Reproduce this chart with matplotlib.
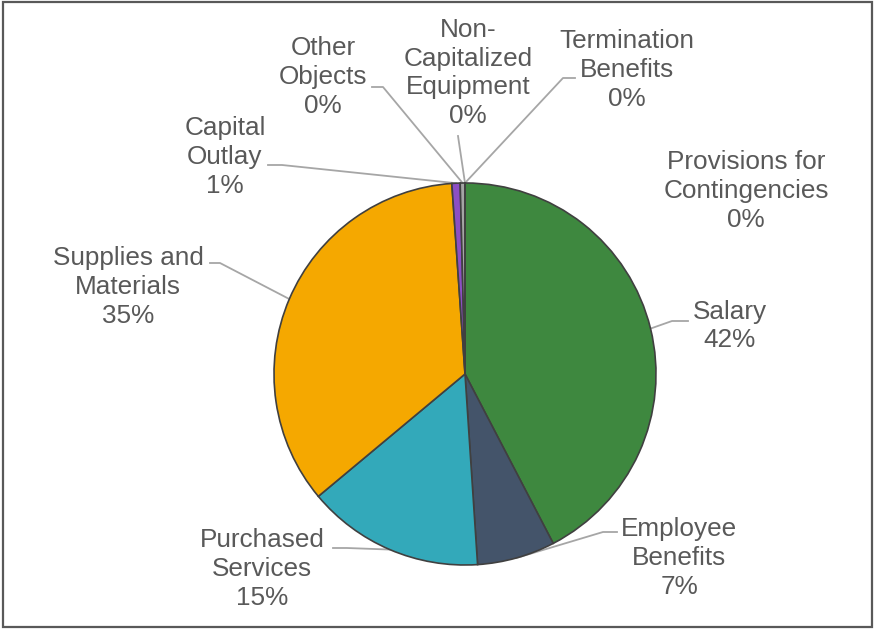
import numpy as np
import matplotlib
matplotlib.use('Agg')
from matplotlib import pyplot as plt
from matplotlib.patches import Rectangle

# budget share by object category (percent of total)
categories = ['Salary', 'Employee\nBenefits', 'Purchased\nServices', 'Supplies and\nMaterials',
              'Capital\nOutlay', 'Other\nObjects', 'Non-\nCapitalized\nEquipment',
              'Termination\nBenefits', 'Provisions for\nContingencies']
shares = [42.4, 6.6, 15.0, 35.0, 0.7, 0.4, 0.0, 0.0, 0.0]
colors = ['#3E883F', '#44546A', '#33A9BA', '#F5A800', '#8C4FC4', '#A5A5A5',
          '#5B9BD5', '#264478', '#9E480E']

W, H = 874, 629
TEXT = '#595959'
LEADER = '#A6A6A6'


def py(y):
    # screen-style y (from top) to axes y
    return H - y


# label centre and leader start/elbow, in pixels from top-left
label_pos = [(730, 326), (679, 558), (262, 569), (128, 287), (225, 157),
             (323, 77), (468, 73), (627, 70), (746, 191)]
leaders = [[(688, 321), (672, 321)],
           [(617, 532), (603, 532)],
           [(333, 548), (347, 548)],
           [(210, 263), (220, 263)],
           [(268, 165), (282, 165)],
           [(372, 87), (383, 87)],
           [(458, 136)],
           [(575, 78), (563, 78)],
           None]

fig = plt.figure(figsize=(W / 100, H / 100), dpi=100)
ax = fig.add_axes([0, 0, 1, 1])

cx, cy, r = 465, py(374), 191
wedges, _ = ax.pie(shares, colors=colors, startangle=90, counterclock=False,
                   center=(cx, cy), radius=r, normalize=True,
                   wedgeprops=dict(edgecolor='#404040', linewidth=1.2))

total = sum(shares)
for i, w in enumerate(wedges):
    pct = round(shares[i] / total * 100)
    lx, ly = label_pos[i]
    ax.text(lx, py(ly), f'{categories[i]}\n{pct:.0f}%', ha='center', va='center',
            multialignment='center', fontsize=18.8, color=TEXT,
            family='Liberation Sans', linespacing=1.24)
    if leaders[i] is None:
        continue
    mid = np.deg2rad((w.theta1 + w.theta2) / 2)
    ex, ey = cx + r * np.cos(mid), cy + r * np.sin(mid)
    xs = [p[0] for p in leaders[i]] + [ex]
    ys = [py(p[1]) for p in leaders[i]] + [ey]
    ax.plot(xs, ys, color=LEADER, linewidth=1.3, zorder=0.5)

ax.set_xlim(0, W)
ax.set_ylim(0, H)
ax.set_aspect('equal')
ax.axis('off')

fig.patches.append(Rectangle((0.004, 0.003), 0.994, 0.994, transform=fig.transFigure,
                             fill=False, edgecolor='#595959', linewidth=1.6))

plt.savefig('out.png', dpi=100)
